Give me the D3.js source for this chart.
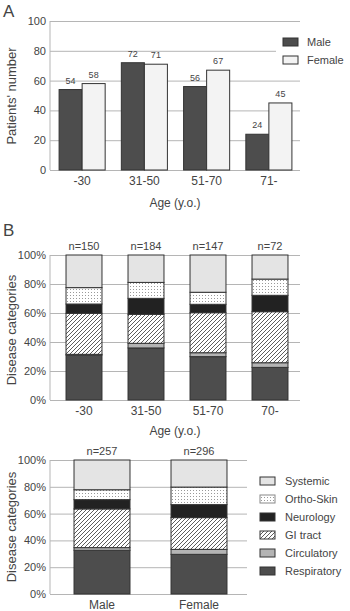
<!DOCTYPE html>
<html>
<head>
<meta charset="utf-8">
<script src="https://cdn.jsdelivr.net/npm/d3@7"></script>
<style>
  body { margin: 0; background: #fff; }
  svg text { font-family: "Liberation Sans", Arial, sans-serif; fill: #444; }
</style>
</head>
<body>
<div class="chart"></div>
<script>
// panel A data
var ageGroupsA = ["-30", "31-50", "51-70", "71-"];
var maleCounts = [54, 72, 56, 24];
var femaleCounts = [58, 71, 67, 45];
var yTicksA = [0, 20, 40, 60, 80, 100];

// panel B data (percent per disease category)
var ageGroupsB = ["-30", "31-50", "51-70", "70-"];
var nAge = [150, 184, 147, 72];
var sexGroups = ["Male", "Female"];
var nSex = [257, 296];
var categories = ["Respiratory", "Circulatory", "GI tract", "Neurology", "Ortho-Skin", "Systemic"];
var respiratoryAge = [31.0, 35.9, 29.9, 22.5];
var circulatoryAge = [0.5, 3.2, 2.7, 3.2];
var giAge = [28.3, 20.0, 27.6, 35.2];
var neurologyAge = [6.4, 11.0, 5.8, 11.3];
var orthoAge = [11.3, 11.0, 8.3, 11.2];
var systemicAge = [22.5, 18.9, 25.7, 16.6];
var respiratorySex = [32.6, 29.6];
var circulatorySex = [2.0, 3.7];
var giSex = [28.9, 23.7];
var neurologySex = [6.9, 9.7];
var orthoSex = [7.4, 13.1];
var systemicSex = [22.2, 20.2];
var pctTicks = [0, 20, 40, 60, 80, 100];

var W = 350, H = 611;
var svg = d3.select(".chart").append("svg").attr("width", W).attr("height", H);

// patterns
var defs = svg.append("defs");
var hatch = defs.append("pattern").attr("id", "hatch").attr("patternUnits", "userSpaceOnUse")
    .attr("width", 4).attr("height", 4);
hatch.append("rect").attr("width", 4).attr("height", 4).attr("fill", "#fff");
hatch.append("path").attr("d", "M-1,1 l2,-2 M0,4 l4,-4 M3,5 l2,-2")
    .attr("stroke", "#333").attr("stroke-width", 0.8);
var dots = defs.append("pattern").attr("id", "dots").attr("patternUnits", "userSpaceOnUse")
    .attr("width", 3).attr("height", 3);
dots.append("rect").attr("width", 3).attr("height", 3).attr("fill", "#fff");
dots.append("rect").attr("x", 1).attr("y", 1).attr("width", 1).attr("height", 1).attr("fill", "#999");

var catFill = {
    "Respiratory": "#4d4d4d",
    "Circulatory": "#b4b4b4",
    "GI tract": "url(#hatch)",
    "Neurology": "#222",
    "Ortho-Skin": "url(#dots)",
    "Systemic": "#e4e4e4"
};

function grid(g, y, x0, x1, ticks, fmt) {
    var ax = g.append("g").attr("transform", "translate(" + x0 + ",0)")
        .call(d3.axisLeft(y).tickValues(ticks).tickSize(-(x1 - x0)).tickPadding(4).tickFormat(fmt));
    ax.select(".domain").remove();
    ax.selectAll("line").attr("stroke", "#b5b5b5");
    ax.selectAll("text").attr("font-size", "11px").attr("fill", "#444");
    g.append("line").attr("x1", x0).attr("x2", x0).attr("y1", y(100)).attr("y2", y(0))
        .attr("stroke", "#b5b5b5");
}

function xLabels(g, x, yPos) {
    var ax = g.append("g").attr("transform", "translate(0," + yPos + ")")
        .call(d3.axisBottom(x).tickSize(0).tickPadding(0));
    ax.select(".domain").remove();
    ax.selectAll("text").attr("font-size", "12px").attr("fill", "#444").attr("dy", "0.71em");
}

function yTitle(g, txt, cy) {
    g.append("text").attr("transform", "translate(16," + cy + ") rotate(-90)")
        .attr("text-anchor", "middle").attr("font-size", "13px").text(txt);
}

// ---------- Panel A ----------
var gA = svg.append("g");
gA.append("text").attr("x", 3).attr("y", 17).attr("font-size", "17px").attr("fill", "#222").text("A");
var yA = d3.scaleLinear().domain([0, 100]).range([170, 21]);
var xA = d3.scaleBand().domain(ageGroupsA).range([51, 300]).paddingInner(0.26).paddingOuter(0.13);
var xA1 = d3.scaleBand().domain(["Male", "Female"]).range([0, xA.bandwidth()]);
grid(gA, yA, 50, 300, yTicksA, d3.format("d"));

var rowsA = ageGroupsA.map(function(a, i) {
    return [{g: a, s: "Male", v: maleCounts[i]}, {g: a, s: "Female", v: femaleCounts[i]}];
});
var barsA = gA.selectAll(".grp").data(rowsA).enter().append("g")
    .attr("transform", function(d) { return "translate(" + xA(d[0].g) + ",0)"; });
barsA.selectAll("rect").data(function(d) { return d; }).enter().append("rect")
    .attr("x", function(d) { return xA1(d.s); })
    .attr("y", function(d) { return yA(d.v); })
    .attr("width", xA1.bandwidth())
    .attr("height", function(d) { return yA(0) - yA(d.v); })
    .attr("fill", function(d) { return d.s == "Male" ? "#4d4d4d" : "#f3f3f3"; })
    .attr("stroke", "#333").attr("stroke-width", 1);
barsA.selectAll("text").data(function(d) { return d; }).enter().append("text")
    .attr("x", function(d) { return xA1(d.s) + xA1.bandwidth() / 2; })
    .attr("y", function(d) { return yA(d.v) - 6; })
    .attr("text-anchor", "middle").attr("font-size", "9px").attr("fill", "#555")
    .text(function(d) { return d.v; });
xLabels(gA, xA, 176);
gA.append("text").attr("x", 175).attr("y", 207).attr("text-anchor", "middle")
    .attr("font-size", "12px").text("Age (y.o.)");
yTitle(gA, "Patients' number", 96);

// legend A
gA.append("rect").attr("x", 276).attr("y", 32).attr("width", 74).attr("height", 36).attr("fill", "#fff");
[["Male", "#4d4d4d"], ["Female", "#f3f3f3"]].forEach(function(l, i) {
    gA.append("rect").attr("x", 283).attr("y", 38 + i * 18).attr("width", 15).attr("height", 8)
        .attr("fill", l[1]).attr("stroke", "#333");
    gA.append("text").attr("x", 307).attr("y", 42 + i * 18).attr("dy", "0.35em")
        .attr("font-size", "11px").text(l[0]);
});

// ---------- stacked bars helper ----------
function stacked(g, groups, ns, series, x, y) {
    var rows = groups.map(function(gr, i) {
        var r = {group: gr};
        categories.forEach(function(c, k) { r[c] = series[k][i]; });
        return r;
    });
    var stack = d3.stack().keys(categories)(rows);
    g.selectAll(".layer").data(stack).enter().append("g")
        .attr("fill", function(d) { return catFill[d.key]; })
        .selectAll("rect").data(function(d) { return d; }).enter().append("rect")
        .attr("x", function(d) { return x(d.data.group); })
        .attr("y", function(d) { return y(d[1]); })
        .attr("width", x.bandwidth())
        .attr("height", function(d) { return y(d[0]) - y(d[1]); })
        .attr("stroke", "#333").attr("stroke-width", 1);
    g.selectAll(".n").data(groups).enter().append("text")
        .attr("x", function(d) { return x(d) + x.bandwidth() / 2; })
        .attr("y", y(100) - 5).attr("text-anchor", "middle").attr("font-size", "11px")
        .text(function(d, i) { return "n=" + ns[i]; });
}

// ---------- Panel B top ----------
var gB = svg.append("g");
gB.append("text").attr("x", 3).attr("y", 236).attr("font-size", "17px").attr("fill", "#222").text("B");
var yB = d3.scaleLinear().domain([0, 100]).range([400, 255]);
var xB = d3.scaleBand().domain(ageGroupsB).range([53, 301]).paddingInner(0.42).paddingOuter(0.21);
grid(gB, yB, 50, 300, pctTicks, function(d) { return d + "%"; });
stacked(gB, ageGroupsB, nAge,
    [respiratoryAge, circulatoryAge, giAge, neurologyAge, orthoAge, systemicAge], xB, yB);
xLabels(gB, xB, 406);
gB.append("text").attr("x", 175).attr("y", 435).attr("text-anchor", "middle")
    .attr("font-size", "12px").text("Age (y.o.)");
yTitle(gB, "Disease categories", 330);

// ---------- Panel B bottom ----------
var gC = svg.append("g");
var yC = d3.scaleLinear().domain([0, 100]).range([594, 460]);
var xC = d3.scaleBand().domain(sexGroups).range([53.5, 247.5]).paddingInner(0.423).paddingOuter(0.2115);
grid(gC, yC, 50, 247, pctTicks, function(d) { return d + "%"; });
stacked(gC, sexGroups, nSex,
    [respiratorySex, circulatorySex, giSex, neurologySex, orthoSex, systemicSex], xC, yC);
xLabels(gC, xC, 600);
yTitle(gC, "Disease categories", 527);

// legend B
var legendOrder = categories.slice().reverse();
var lg = gC.selectAll(".lg").data(legendOrder).enter().append("g")
    .attr("transform", function(d, i) { return "translate(260," + (481 + i * 18) + ")"; });
lg.append("rect").attr("x", 0).attr("y", -4).attr("width", 15).attr("height", 8)
    .attr("fill", function(d) { return catFill[d]; })
    .attr("stroke", function(d) { return d == "Ortho-Skin" ? "#888" : "#333"; });
lg.append("text").attr("x", 25).attr("dy", "0.35em").attr("font-size", "11px")
    .text(function(d) { return d; });
</script>
</body>
</html>
